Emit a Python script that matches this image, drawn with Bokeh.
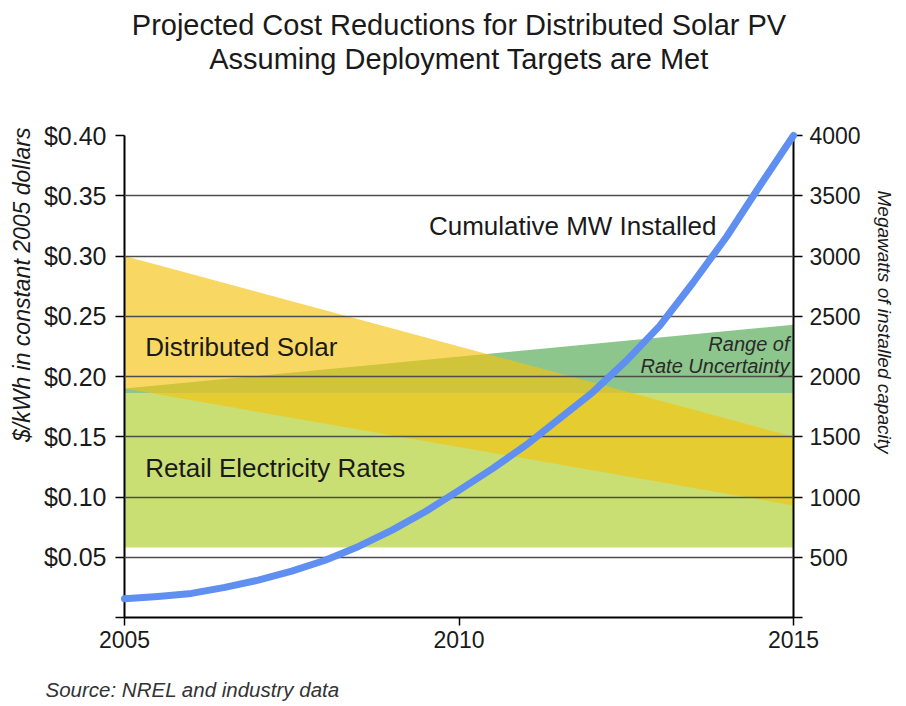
from bokeh.plotting import figure
from bokeh.models import Range1d, LinearAxis, FixedTicker, NumeralTickFormatter, Label, Title
from bokeh.embed import file_html
from bokeh.resources import INLINE

# ---- data ----
band_years = [2005, 2015]
solar_low = [0.190, 0.093]
solar_high = [0.300, 0.150]
retail_low = [0.058, 0.058]
retail_high = [0.186, 0.186]
uncert_low = [0.186, 0.186]
uncert_high = [0.190, 0.243]

mw_years = [2005, 2005.5, 2006, 2006.5, 2007, 2007.5, 2008, 2008.5, 2009, 2009.5, 2010,
            2010.5, 2011, 2011.5, 2012, 2012.5, 2013, 2013.5, 2014, 2014.5, 2015]
mw_installed = [155, 175, 200, 250, 310, 385, 475, 590, 725, 880, 1055,
                1235, 1430, 1650, 1870, 2130, 2420, 2780, 3160, 3585, 4000]

year_ticks = [2005, 2010, 2015]
cost_ticks = [0.0, 0.05, 0.10, 0.15, 0.20, 0.25, 0.30, 0.35, 0.40]
grid_ticks = [0.05, 0.10, 0.15, 0.20, 0.25, 0.30, 0.35, 0.40]
mw_ticks = [0, 500, 1000, 1500, 2000, 2500, 3000, 3500, 4000]

title_lines = ["Projected Cost Reductions for Distributed Solar PV",
               "Assuming Deployment Targets are Met"]
left_title = "$/kWh in constant 2005 dollars"
right_title = "Megawatts of installed capacity"
source_note = "Source:  NREL and industry data"

FONT = "Liberation Sans"
TXT = "#1a1a1a"

p = figure(width=906, height=706, output_backend="svg", toolbar_location=None,
           x_range=Range1d(2005, 2015), y_range=Range1d(0, 0.40),
           min_border_left=124, min_border_right=109,
           min_border_top=135, min_border_bottom=89)
p.extra_y_ranges = {"mw": Range1d(0, 4000)}
p.outline_line_color = None
p.background_fill_color = "white"
p.border_fill_color = "white"

# bands
p.varea(x=band_years, y1=retail_low, y2=retail_high, fill_color="#c9df74")
p.varea(x=band_years, y1=uncert_low, y2=uncert_high, fill_color="#8dc68c")
p.varea(x=band_years, y1=solar_low, y2=solar_high, fill_color="#f5c30e", fill_alpha=0.65)

# grid
p.xgrid.visible = False
p.ygrid.ticker = FixedTicker(ticks=grid_ticks)
p.ygrid.grid_line_color = "#4d4d4d"
p.ygrid.grid_line_width = 1.6
p.ygrid.level = "guide"

# curve
curve = p.line(mw_years, mw_installed, y_range_name="mw", line_color="#5f8ff0",
               line_width=7, line_cap="round", line_join="round")
curve.level = "annotation"

# axes
right = LinearAxis(y_range_name="mw")
p.add_layout(right, "right")
left = p.yaxis[0]
bottom = p.xaxis[0]

for ax in (left, right, bottom):
    ax.axis_line_color = "black"
    ax.axis_line_width = 2
    ax.major_tick_line_color = "black"
    ax.major_tick_line_width = 1.5
    ax.major_tick_in = 0
    ax.major_tick_out = 9
    ax.minor_tick_line_color = None
    ax.major_label_text_font = FONT
    ax.major_label_text_color = TXT

left.ticker = FixedTicker(ticks=cost_ticks)
left.formatter = NumeralTickFormatter(format="$0.00")
left.major_label_overrides = {0: ""}
left.major_label_text_font_size = "25px"
left.major_label_standoff = 9

right.ticker = FixedTicker(ticks=mw_ticks)
right.major_label_overrides = {0: ""}
right.major_label_text_font_size = "23px"
right.major_label_standoff = 7

bottom.ticker = FixedTicker(ticks=year_ticks)
bottom.major_tick_out = 8
bottom.major_label_text_font_size = "23px"
bottom.major_label_standoff = 5


def spacer(size, at):
    """An axis with one invisible (white) tick, used only to reserve room in a side panel."""
    return LinearAxis(ticker=FixedTicker(ticks=[at]), axis_line_color=None,
                      major_tick_line_color="white", major_tick_line_width=1,
                      minor_tick_line_color=None,
                      major_tick_in=0, major_tick_out=size, minor_tick_out=0,
                      major_label_standoff=0, major_label_overrides={at: ""},
                      major_label_text_font_size="1px")


# in-plot labels (data coordinates)
def dlabel(x, y, text, size, style="normal", align="left", color=TXT):
    p.add_layout(Label(x=x, y=y, text=text, text_font=FONT, text_font_size=size,
                       text_font_style=style, text_align=align, text_baseline="middle",
                       text_color=color))

dlabel(2009.55, 0.325, "Cumulative MW Installed", "26px")
dlabel(2005.31, 0.2247, "Distributed Solar", "26px")
dlabel(2005.31, 0.1244, "Retail Electricity Rates", "26px")
dlabel(2014.94, 0.2272, "Range of", "20px", "italic", "right", "#2a2a2a")
dlabel(2014.94, 0.2090, "Rate Uncertainty", "20px", "italic", "right", "#2a2a2a")

# title: spacer nearest the frame, then line 2, then line 1
p.add_layout(spacer(61, year_ticks[0]), "above")
p.add_layout(Title(text=title_lines[1], align="center", text_font=FONT,
                   text_font_size="29px", text_font_style="normal", text_color=TXT,
                   standoff=0), "above")
p.add_layout(Title(text=title_lines[0], align="center", text_font=FONT,
                   text_font_size="29px", text_font_style="normal", text_color=TXT,
                   standoff=0), "above")

# axis titles
p.add_layout(Title(text=left_title, align="right", offset=-8, text_font=FONT,
                   text_font_size="23px", text_font_style="italic", text_color=TXT,
                   standoff=12), "left")
p.add_layout(Title(text=right_title, align="left", offset=55, text_font=FONT,
                   text_font_size="19px", text_font_style="italic", text_color=TXT,
                   standoff=20), "right")

# source note below the x axis
p.add_layout(spacer(25, year_ticks[-1]), "below")
p.add_layout(Title(text=source_note, align="left", offset=-79, text_font=FONT,
                   text_font_size="20.5px", text_font_style="italic", text_color="#333333",
                   standoff=0), "below")

open("out.html", "w").write(file_html(p, INLINE))
